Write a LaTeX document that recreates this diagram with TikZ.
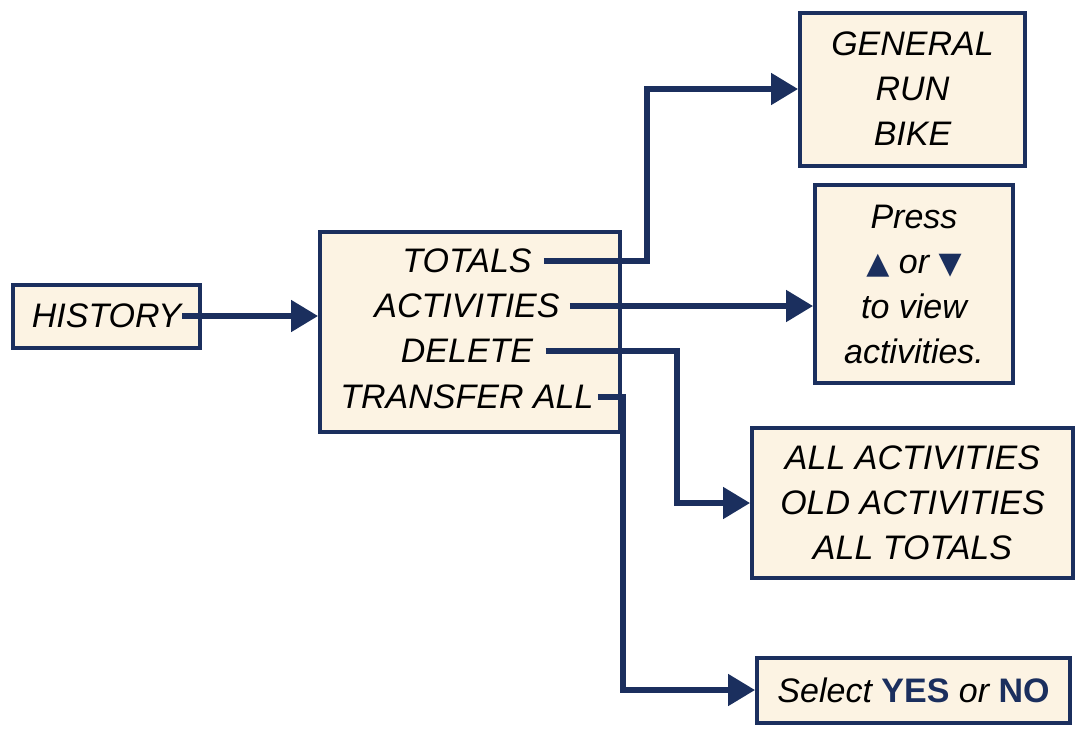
\documentclass[tikz,border=0pt]{standalone}
\usepackage{fontspec}
\setmainfont{Liberation Sans}
\newfontfamily\symfont{DejaVu Sans}
\usepackage{xcolor}
\usepackage{tikz}
\usetikzlibrary{arrows.meta,positioning}

\definecolor{navy}{HTML}{1B2F5E}
\definecolor{cream}{HTML}{FCF3E3}
\newcommand{\up}{{\color{navy}\symfont\fontsize{15}{15}\selectfont ▲}}
\newcommand{\down}{{\color{navy}\symfont\fontsize{15}{15}\selectfont ▼}}

\begin{document}
\begin{tikzpicture}[
    x=0.5pt, y=-0.5pt,
    font=\fontsize{17}{22.5}\selectfont\itshape,
    box/.style={draw=navy, line width=2pt, fill=cream, align=center, inner sep=0pt},
    item/.style={inner sep=0pt, inner xsep=6pt},
    arrow/.style={draw=navy, line width=2.6pt, -{Triangle[length=13.5pt, width=15.5pt]}},
    link/.style={draw=navy, line width=2.6pt}
]
\useasboundingbox (0,0) rectangle (1079,734);
\node[box, minimum width=93.5pt, minimum height=31.5pt] (history) at (106.5,316) {HISTORY};
\node[box, minimum width=150pt, minimum height=100pt] (menu) at (470,332) {};
\node[item] (totals) at (467,261) {TOTALS};
\node[item, inner xsep=5pt] (activities) at (467,306) {ACTIVITIES};
\node[item] (delete) at (467,351) {DELETE};
\node[item, inner xsep=2pt] (transfer) at (467,397) {TRANSFER ALL};
\node[box, minimum width=112.5pt, minimum height=76.5pt] (general) at (912.5,89) {GENERAL\\RUN\\BIKE};
\node[box, minimum width=99pt, minimum height=99pt] (press) at (914,284) {Press\\\up{} or \down\\to view\\activities.};
\node[box, minimum width=160.5pt, minimum height=75pt] (purge) at (912.5,503) {ALL ACTIVITIES\\OLD ACTIVITIES\\ALL TOTALS};
\node[box, minimum width=156.5pt, minimum height=32.5pt] (confirm) at (913.5,690) {Select {\upshape\bfseries\color{navy}YES} or {\upshape\bfseries\color{navy}NO}};
% elbows
\coordinate (jt) at (647,0);
\coordinate (jd) at (677,0);
\coordinate (jx) at (623,0);
\draw[arrow] ([xshift=-10pt]history.east) -- (history.east -| menu.west);
\draw[arrow] (totals.east) -- (totals.east -| jt) |- (general.west);
\draw[arrow] (activities.east) -- (activities.east -| press.west);
\draw[arrow] (delete.east) -- (delete.east -| jd) |- (purge.west);
\draw[arrow] (transfer.east) -- (transfer.east -| jx) |- (confirm.west);
\end{tikzpicture}
\end{document}
